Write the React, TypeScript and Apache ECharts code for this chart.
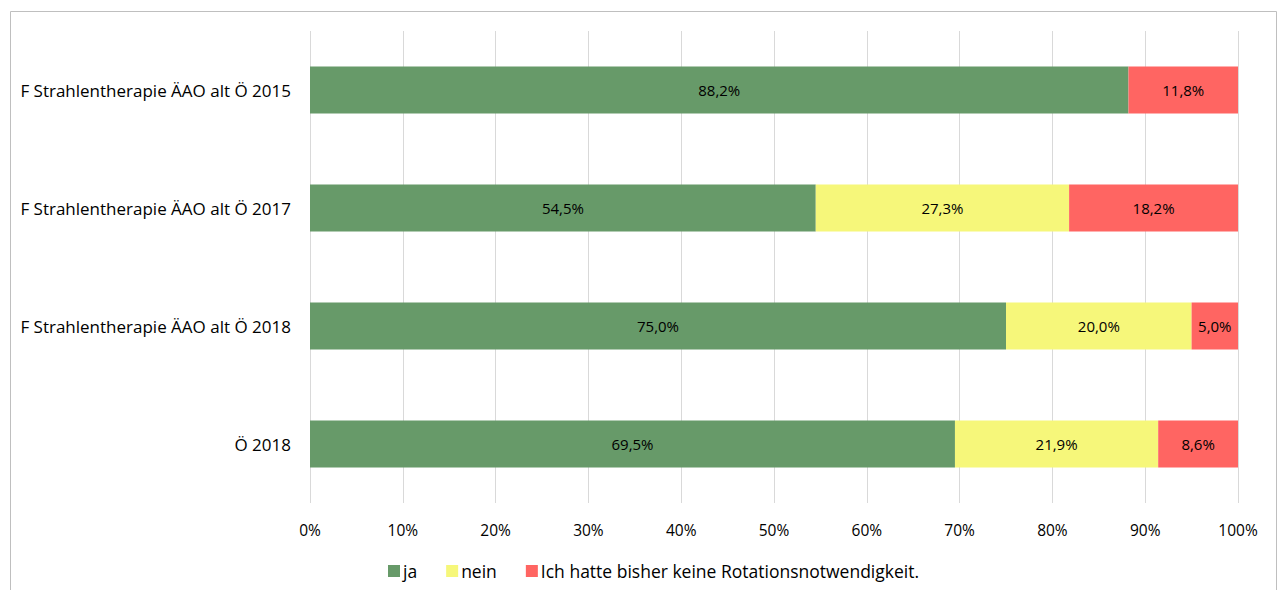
import React, { useEffect, useRef } from "react";
import * as echarts from "echarts";

const categories = [
  "F Strahlentherapie ÄAO alt Ö 2015",
  "F Strahlentherapie ÄAO alt Ö 2017",
  "F Strahlentherapie ÄAO alt Ö 2018",
  "Ö 2018",
];
const seriesNames = ["ja", "nein", "Ich hatte bisher keine Rotationsnotwendigkeit."];
const jaValues = [88.2, 54.5, 75.0, 69.5];
const neinValues = [0, 27.3, 20.0, 21.9];
const keineValues = [11.8, 18.2, 5.0, 8.6];
const colors = ["#679A69", "#F6F77A", "#FF6562"];

const FONT = "'Open Sans', 'Noto Sans', sans-serif";

export default function App() {
  const ref = useRef<HTMLDivElement>(null);
  useEffect(() => {
    if (!ref.current) return;
    const chart = echarts.init(ref.current, undefined, { renderer: "svg" });
    const values = [jaValues, neinValues, keineValues];
    chart.setOption({
      animation: false,
      textStyle: { fontFamily: FONT },
      graphic: [
        {
          type: "rect",
          shape: { x: 10.5, y: 11.5, width: 1266, height: 600 },
          style: { fill: "none", stroke: "#BFBFBF", lineWidth: 1 },
          silent: true,
        },
      ],
      grid: { left: 310, right: 41, top: 31, bottom: 87, containLabel: false },
      legend: {
        top: 557,
        left: 383,
        itemWidth: 12,
        itemHeight: 12,
        itemGap: 29,
        icon: "rect",
        textStyle: { fontFamily: FONT, fontSize: 17.5, color: "#000", padding: [0, 0, 0, -2] },
        data: seriesNames,
      },
      xAxis: {
        type: "value",
        min: 0,
        max: 100,
        interval: 10,
        axisLine: { show: false },
        axisTick: { show: false },
        splitLine: { lineStyle: { color: "#D9D9D9", width: 1 } },
        axisLabel: {
          formatter: "{value}%",
          fontFamily: FONT,
          fontSize: 15.5,
          color: "#000",
          margin: 19,
        },
      },
      yAxis: {
        type: "category",
        inverse: true,
        data: categories,
        axisLine: { show: false },
        axisTick: { show: false },
        axisLabel: { fontFamily: FONT, fontSize: 17, color: "#000", margin: 19 },
      },
      series: seriesNames.map((name, i) => ({
        name,
        type: "bar",
        stack: "total",
        barWidth: "40%",
        itemStyle: { color: colors[i] },
        label: {
          show: true,
          position: "inside",
          fontFamily: FONT,
          fontSize: 15,
          color: "#000",
          formatter: (p: any) =>
            p.value > 0 ? Number(p.value).toFixed(1).replace(".", ",") + "%" : "",
        },
        data: values[i],
      })),
    });
    return () => chart.dispose();
  }, []);
  return (
    <div
      ref={ref}
      style={{ position: "fixed", left: 0, top: 0, width: 1279, height: 590, background: "#fff" }}
    />
  );
}
